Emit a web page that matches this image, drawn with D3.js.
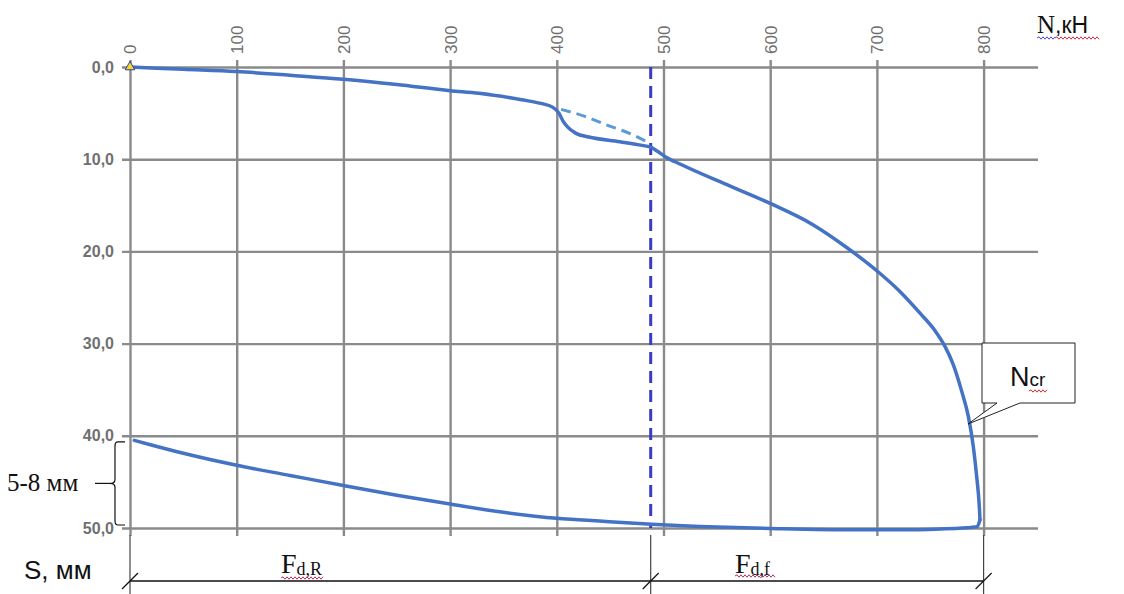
<!DOCTYPE html>
<html><head><meta charset="utf-8">
<script src="https://cdn.jsdelivr.net/npm/d3@7"></script>
<style>
html,body{margin:0;padding:0;background:#fff;}
svg{display:block;}
</style></head>
<body>
<svg id="chart" width="1124" height="594"></svg>
<script>
// ---------------- data ----------------
const xTicks = [0,100,200,300,400,500,600,700,800];          // N, kN
const yTicks = [0,10,20,30,40,50];                            // S, mm
// loading branch (N, S)
const loadN = [0,50,100,150,200,250,300,327,367,385,396,402,406,410,418,430,459,480,489,495,502,516,562,600,640,672,703,722,740.4,754.5,763.8,771.3,779.3,785.7,790.4,793.5,796,796.6];
const loadS = [0,0.25,0.5,0.9,1.33,1.9,2.57,2.85,3.55,3.95,4.35,5.0,5.9,6.5,7.2,7.6,8.1,8.5,8.75,9.2,9.75,10.55,12.9,14.8,17.1,19.6,22.4,24.4,26.7,28.6,30.3,32.2,35.1,37.9,41.2,44.4,47.7,49.1];
// unloading / residual branch (N, S), ascending N, ends at the corner
const backN = [4,20,50,100,150,200,250,300,350,400,420,440,489,550,600,680,720,760,780,794,796.6];
const backS = [40.5,41.0,41.9,43.2,44.3,45.4,46.45,47.4,48.3,48.95,49.1,49.25,49.6,49.9,50.05,50.2,50.2,50.1,50.0,49.85,49.1];
// extrapolated (dashed) segment
const dashN = [404,425,447,468,486];
const dashS = [4.6,5.3,6.3,7.2,8.2];
// load level marking the dividing line
const Nsplit = 488;
const Nmax = 800;

// ---------------- layout ----------------
const svg = d3.select("#chart");
const x = d3.scaleLinear().domain([0,800]).range([130,983.6]);
const y = d3.scaleLinear().domain([0,50]).range([67,528]);
const gridColor = "#8a8a8a";

// vertical grid (top axis)
const gx = svg.append("g").attr("transform","translate(0,60)")
  .call(d3.axisTop(x).tickValues(xTicks).tickSize(-476).tickPadding(0).tickFormat(d3.format("d")));
gx.select(".domain").remove();
gx.selectAll(".tick line").attr("stroke",gridColor).attr("stroke-width",2.4);
gx.selectAll(".tick text")
  .attr("transform","translate(0,-6) rotate(-90)")
  .attr("x",0).attr("y",0).attr("dy","0.35em")
  .attr("text-anchor","start")
  .attr("fill","#6e6e6e")
  .style("font-family","Arial, 'Liberation Sans', sans-serif")
  .style("font-size","17px");

// horizontal grid (left axis)
const gy = svg.append("g").attr("transform","translate(122,0)")
  .call(d3.axisLeft(y).tickValues(yTicks).tickSize(-916).tickPadding(8)
        .tickFormat(d => d.toFixed(1).replace(".", ",")));
gy.select(".domain").remove();
gy.selectAll(".tick line").attr("stroke",gridColor).attr("stroke-width",2.4);
gy.selectAll(".tick text")
  .attr("fill","#707070")
  .style("font-family","Arial, 'Liberation Sans', sans-serif")
  .style("font-size","16px").style("font-weight","bold");

// dividing dashed line
svg.append("line")
  .attr("x1",x(Nsplit)).attr("x2",x(Nsplit)).attr("y1",y(0)).attr("y2",y(50))
  .attr("stroke","#3b3bc4").attr("stroke-width",3).attr("stroke-dasharray","12,7");

// curves
const line = d3.line().x(d=>x(d[0])).y(d=>y(d[1])).curve(d3.curveMonotoneX);
svg.append("path").datum(dashN.map((n,i)=>[n,dashS[i]]))
  .attr("d",line).attr("fill","none").attr("stroke","#5b9bd5")
  .attr("stroke-width",3).attr("stroke-dasharray","10,6");
[[loadN,loadS],[backN,backS]].forEach(([N,S])=>{
  svg.append("path").datum(N.map((n,i)=>[n,S[i]])).attr("d",line)
    .attr("fill","none").attr("stroke","#4472c4").attr("stroke-width",3.5)
    .attr("stroke-linejoin","round").attr("stroke-linecap","round");
});

// origin marker
svg.append("path").attr("d",d3.symbol(d3.symbolTriangle,40)())
  .attr("transform",`translate(${x(0)},${y(0)})`)
  .attr("fill","#f2dc2a").attr("stroke","#3a3aa0").attr("stroke-width",1);

// ---------------- annotations ----------------
function wavy(x0,x1,yy,color){
  let d=`M${x0},${yy}`; let up=true;
  for(let xx=x0+2; xx<=x1; xx+=2){ d+=`L${xx},${yy+(up?-1.2:1.2)}`; up=!up; }
  svg.append("path").attr("d",d).attr("fill","none").attr("stroke",color).attr("stroke-width",1);
}
const serif = "'Liberation Serif','Times New Roman',serif";
const sans = "Arial,'Liberation Sans',sans-serif";

// N,кН label
const nt = svg.append("text").attr("x",1037).attr("y",33)
  .style("font-size","25px").attr("fill","#111");
nt.append("tspan").style("font-family",serif).text("N");
nt.append("tspan").style("font-family",sans).style("font-size","23px").text(",кН");
wavy(1037,1055,38,"#4b4bd0");
wavy(1055,1100,38,"#c0304a");

// S, мм
svg.append("text").attr("x",24).attr("y",579).style("font-family",sans)
  .style("font-size","26px").attr("fill","#111").text("S, мм");

// 5-8 мм with brace
svg.append("text").attr("x",7).attr("y",491).style("font-family",serif)
  .style("font-size","25px").attr("fill","#111").text("5-8 мм");
const yb0 = y(40)+6, yb1 = y(50)-3, ym = (yb0+yb1)/2;
svg.append("path")
  .attr("d",`M125,${yb0} L118,${yb0} Q115,${yb0} 115,${yb0+4} L115,${ym-4} Q115,${ym} 110,${ym} Q115,${ym} 115,${ym+4} L115,${yb1-4} Q115,${yb1} 118,${yb1} L125,${yb1}`)
  .attr("fill","none").attr("stroke","#111").attr("stroke-width",1.2);
svg.append("line").attr("x1",95).attr("x2",110).attr("y1",ym).attr("y2",ym)
  .attr("stroke","#111").attr("stroke-width",1.2);

// dimension line
const dimY = 581;
svg.append("line").attr("x1",x(0)).attr("x2",x(Nmax)).attr("y1",dimY).attr("y2",dimY)
  .attr("stroke","#111").attr("stroke-width",1.3);
[0,Nsplit,Nmax].forEach(n=>{
  svg.append("line").attr("x1",x(n)).attr("x2",x(n)).attr("y1",535).attr("y2",594)
    .attr("stroke","#444").attr("stroke-width",1.2);
  svg.append("line").attr("x1",x(n)-8).attr("x2",x(n)+8).attr("y1",dimY+8).attr("y2",dimY-8)
    .attr("stroke","#111").attr("stroke-width",1.2);
});
function fLabel(xx,sub){
  const t = svg.append("text").attr("x",xx).attr("y",573).style("font-family",serif).attr("fill","#111");
  t.append("tspan").style("font-size","28px").text("F");
  t.append("tspan").attr("dy",2).style("font-size","18px").text(sub);
}
fLabel(281,"d,R"); wavy(281,323,578,"#b03060");
fLabel(735,"d,f"); wavy(735,775,576,"#b03060");

// Ncr callout
svg.append("path")
  .attr("d","M982,343 L1075,343 L1075,403 L1020,403 L968,424 L997,403 L982,403 Z")
  .attr("fill","#fff").attr("stroke","#222").attr("stroke-width",1);
const ct = svg.append("text").attr("x",1010).attr("y",386).style("font-family",sans).attr("fill","#111");
ct.append("tspan").style("font-size","27px").text("N");
ct.append("tspan").style("font-size","19px").text("cr");
wavy(1029,1047,391,"#d03030");
</script>
</body></html>
